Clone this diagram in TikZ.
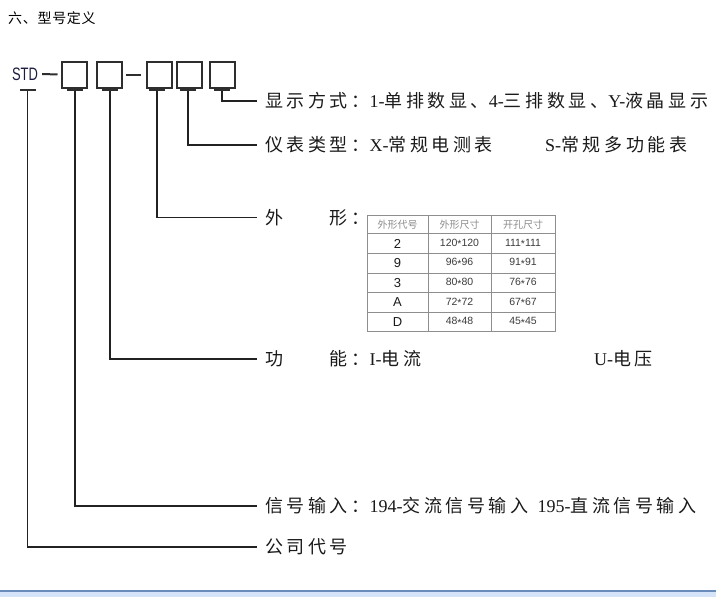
\documentclass[tikz,border=0pt]{standalone}
\usepackage{fontspec}
\usepackage{graphicx}
\setmainfont{Liberation Serif}
\newfontfamily\cjk[LetterSpace=20]{Noto Sans CJK SC}
\newfontfamily\cjkplain{Noto Sans CJK SC}
\newfontfamily\cjktitle[LetterSpace=5]{Noto Sans CJK SC}
\newfontfamily\arialf{Liberation Sans}
\newcommand\tstar{\raisebox{-0.3ex}{*}}
\definecolor{boxgray}{HTML}{2E2E2E}
\definecolor{linegray}{HTML}{222222}
\definecolor{txt}{HTML}{1A1A1A}
\definecolor{stdblue}{HTML}{1C1C40}
\definecolor{tgray}{HTML}{8E8E8E}
\definecolor{hgray}{HTML}{8C8C8C}
\definecolor{bandline}{HTML}{6A8CBA}
\definecolor{bandfill}{HTML}{D5E4F8}
\begin{document}
\begin{tikzpicture}[x=1pt,y=-1pt,
  box/.style={draw=boxgray, line width=2pt, minimum width=25pt, minimum height=26pt, inner sep=0pt},
  bar/.style={fill=boxgray, minimum width=16pt, minimum height=2.4pt, inner sep=0pt},
  conn/.style={draw=linegray, line width=1.5pt},
  dashline/.style={draw=boxgray, line width=2pt},
  lbl/.style={anchor=west, inner sep=0pt, text=txt, font=\fontsize{18}{21}\selectfont},
  tline/.style={draw=tgray, line width=0.8pt},
  hcell/.style={inner sep=0pt, text=hgray, font=\cjkplain\fontsize{10}{11}\selectfont},
  dcell/.style={inner sep=0pt, text=txt!85, font=\arialf\fontsize{10.5}{12}\selectfont},
  kcell/.style={inner sep=0pt, text=txt, font=\arialf\fontsize{13}{14}\selectfont}]
\useasboundingbox (0,0) rectangle (716,597);
\fill[white] (0,0) rectangle (716,597);
% bottom band
\fill[bandfill] (0,592) rectangle (716,597);
\draw[bandline, line width=1.5pt] (0,591) -- (716,591);
% title
\node[anchor=west, inner sep=0pt, text=black, font=\cjktitle\fontsize{14}{16}\selectfont] (title) at (8,18) {六、型号定义};
% model code
\node[inner sep=0pt, text=stdblue, font=\arialf\fontsize{18}{20}\selectfont] (std) at (25,74) {\scalebox{0.72}[1]{STD}};
\node[box] (b1) at (74.5,74.5) {};
\node[box] (b2) at (109,74.5) {};
\node[box] (b3) at (159,74.5) {};
\node[box] (b4) at (189,74.5) {};
\node[box] (b5) at (222,74.5) {};
\draw[dashline] ([xshift=4pt]std.east) -- ([xshift=-3.5pt]b1.west);
\draw[dashline] ([xshift=3.5pt]b2.east) -- ([xshift=-5pt]b3.west);
% bars
\node[bar] (bar0) at (27.5,90) {};
\node[bar] (bar1) at (75,90) {};
\node[bar] (bar2) at (110,90) {};
\node[bar] (bar3) at (157,90) {};
\node[bar] (bar4) at (188,90) {};
\node[bar] (bar5) at (222,90) {};
% labels
\node[lbl] (t1) at (265,101) {{\cjk 显示方式：}1-{\cjk 单排数显、}4-{\cjk 三排数显、}Y-{\cjk 液晶显示}};
\node[lbl] (t2) at (265,145) {{\cjk 仪表类型：}X-{\cjk 常规电测表}};
\node[lbl] (t2b) at (545,145) {S-{\cjk 常规多功能表}};
\node[lbl] (t3) at (265,217.5) {{\cjk 外　　形：}};
\node[lbl] (t4) at (265,359) {{\cjk 功　　能：}I-{\cjk 电流}};
\node[lbl] (t4b) at (594,359) {U-{\cjk 电压}};
\node[lbl] (t5) at (265,506) {{\cjk 信号输入：}194-{\cjk 交流信号输入}\hspace{0.5em}195-{\cjk 直流信号输入}};
\node[lbl] (t6) at (265,547) {{\cjk 公司代号}};
% connectors
\draw[conn] (bar5.south) |- ([xshift=-8pt]t1.west);
\draw[conn] (bar4.south) |- ([xshift=-8pt]t2.west);
\draw[conn] (bar3.south) |- ([xshift=-8pt]t3.west);
\draw[conn] (bar2.south) |- ([xshift=-8pt]t4.west);
\draw[conn] (bar1.south) |- ([xshift=-8pt]t5.west);
\draw[conn] (bar0.south) |- ([xshift=-8pt]t6.west);
% table
\draw[tline] (367,215) rectangle (555,331);
\foreach \yy in {233.5,253,273,292.5,312} \draw[tline] (367,\yy) -- (555,\yy);
\draw[tline] (428,215) -- (428,331);
\draw[tline] (491,215) -- (491,331);
\node[hcell] (h1) at (397.5,224.5) {外形代号};
\node[hcell] (h2) at (459.5,224.5) {外形尺寸};
\node[hcell] (h3) at (523,224.5) {开孔尺寸};
\node[kcell] (k1) at (397.5,243.5) {2};
\node[dcell] (d11) at (459.5,243.5) {120\tstar120};
\node[dcell] (d12) at (523,243.5) {111\tstar111};
\node[kcell] (k2) at (397.5,263) {9};
\node[dcell] (d21) at (459.5,263) {96\tstar96};
\node[dcell] (d22) at (523,263) {91\tstar91};
\node[kcell] (k3) at (397.5,283) {3};
\node[dcell] (d31) at (459.5,283) {80\tstar80};
\node[dcell] (d32) at (523,283) {76\tstar76};
\node[kcell] (k4) at (397.5,302.5) {A};
\node[dcell] (d41) at (459.5,302.5) {72\tstar72};
\node[dcell] (d42) at (523,302.5) {67\tstar67};
\node[kcell] (k5) at (397.5,322) {D};
\node[dcell] (d51) at (459.5,322) {48\tstar48};
\node[dcell] (d52) at (523,322) {45\tstar45};
\end{tikzpicture}
\end{document}
